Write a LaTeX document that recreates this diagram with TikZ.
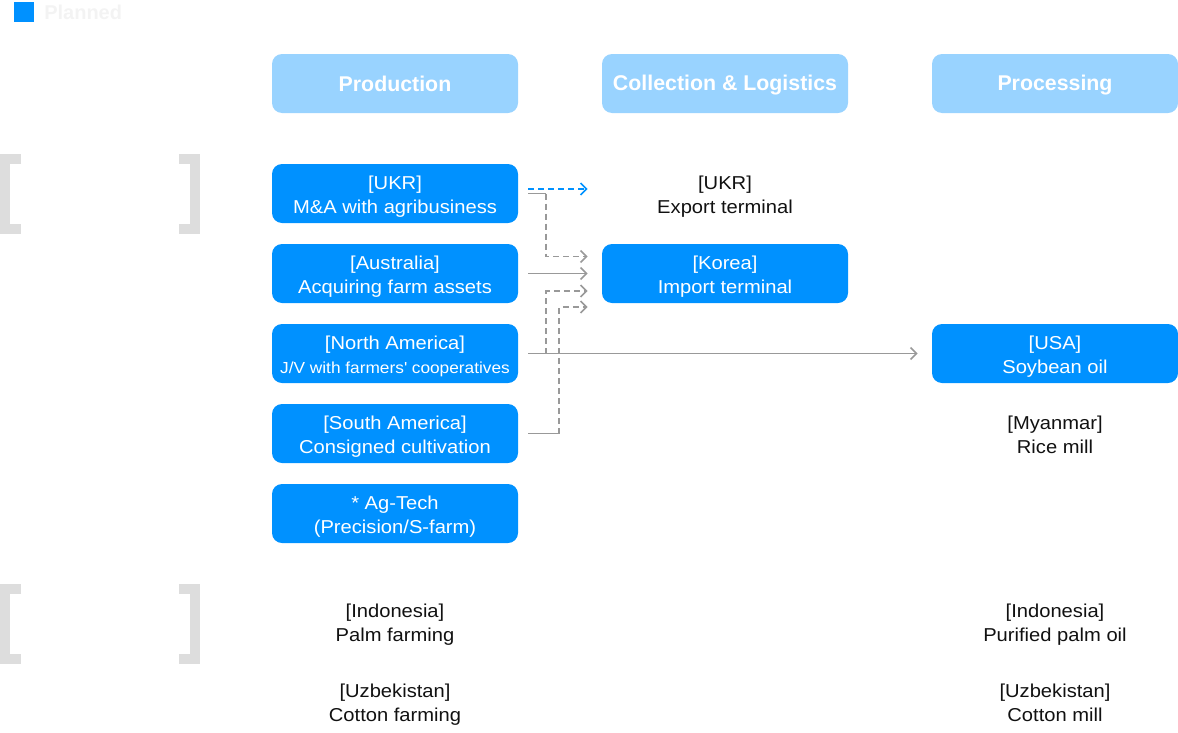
\documentclass[tikz,border=0pt]{standalone}
\usepackage{fontspec}
\setmainfont{Liberation Sans}[FakeStretch=1.08]
\newfontfamily\hdfont{Liberation Sans}
\usetikzlibrary{arrows.meta,calc}
\definecolor{bblue}{HTML}{0091FF}
\definecolor{hblue}{HTML}{99D3FF}
\definecolor{cgray}{HTML}{999999}
\definecolor{brk}{HTML}{DDDDDD}
\definecolor{ptext}{HTML}{F3F3F3}
\definecolor{tblack}{HTML}{111111}
\newcommand\topst{\rule{0pt}{15.7pt}}
\newcommand\botst{\rule[-4pt]{0pt}{4pt}}
\newcommand\hdst{\rule[-2pt]{0pt}{15.8pt}}
\begin{document}
\begin{tikzpicture}[x=0.75pt,y=-0.75pt,
  box/.style={fill=bblue, rounded corners=7.5pt, minimum width=184.5pt, minimum height=44.25pt,
    text=white, align=center, font=\fontsize{14}{18}\selectfont, inner sep=0pt},
  hbox/.style={box, fill=hblue, font=\hdfont\fontsize{16}{18}\selectfont\bfseries},
  plain/.style={align=center, text=tblack, font=\fontsize{14}{18}\selectfont, inner sep=0pt},
  conn/.style={draw=cgray, line width=1.4pt},
  dconn/.style={conn, dash pattern=on 4.5pt off 3pt},
  tipc/.style={-{Straight Barb[length=4.5pt,width=9pt,line width=1.3pt]}},
  brack/.style={draw=brk, line width=7.5pt, line join=miter, line cap=butt}
]
\useasboundingbox (0,0) rectangle (1178,732);

% legend
\node[fill=bblue, minimum size=15pt, inner sep=0pt] (legsq) at (24,12) {};
\node[anchor=west, text=ptext, font=\hdfont\fontsize{15}{18}\selectfont\bfseries, inner sep=0pt] (legtxt) at (44,12) {Planned};

% brackets
\draw[brack] (21,159) -- (5,159) -- (5,229) -- (21,229);
\draw[brack] (179,159) -- (195,159) -- (195,229) -- (179,229);
\draw[brack] (21,589) -- (5,589) -- (5,659) -- (21,659);
\draw[brack] (179,589) -- (195,589) -- (195,659) -- (179,659);

% headers
\node[hbox] (h1) at (395,83.5) {\hdst Production};
\node[hbox] (h2) at (725,83.5) {\hdst Collection \& Logistics};
\node[hbox] (h3) at (1055,83.5) {\hdst Processing};

% production boxes
\node[box] (u1) at (395,193.5) {\topst[UKR]\\M\&A with agribusiness\botst};
\node[box] (a1) at (395,273.5) {\topst[Australia]\\Acquiring farm assets\botst};
\node[box] (n1) at (395,353.5) {\topst[North America]\\{\fontsize{12}{18}\selectfont J/V with farmers\textquotesingle{} cooperatives}\botst};
\node[box] (s1) at (395,433.5) {\topst[South America]\\Consigned cultivation\botst};
\node[box] (g1) at (395,513.5) {\topst* Ag-Tech\\(Precision/S-farm)\botst};

% collection
\node[plain] (t1) at (725,193.5) {\topst[UKR]\\Export terminal\botst};
\node[box] (k1) at (725,273.5) {\topst[Korea]\\Import terminal\botst};

% processing
\node[box] (us) at (1055,353.5) {\topst[USA]\\Soybean oil\botst};
\node[plain] (my) at (1055,433.5) {\topst[Myanmar]\\Rice mill\botst};

% bottom rows
\node[plain] (ip) at (395,621.5) {\topst[Indonesia]\\Palm farming\botst};
\node[plain] (io) at (1055,621.5) {\topst[Indonesia]\\Purified palm oil\botst};
\node[plain] (zc) at (395,701.5) {\topst[Uzbekistan]\\Cotton farming\botst};
\node[plain] (zm) at (1055,701.5) {\topst[Uzbekistan]\\Cotton mill\botst};

% connectors
\draw[conn, draw=bblue, dash pattern=on 4.5pt off 3pt, tipc] ($(u1.east)+(10,-4.5)$) -- ($(k1.west)+(-14,-84.5)$);
\draw[conn] ($(u1.east)+(10,0)$) -- ($(u1.east)+(28,0)$);
\draw[dconn, tipc] ($(u1.east)+(28,0)$) |- ($(k1.west)+(-14,-17)$);
\draw[conn, tipc] ($(a1.east)+(10,0)$) -- ($(k1.west)+(-14,0)$);
\draw[dconn, tipc] ($(n1.east)+(28,0)$) |- ($(k1.west)+(-14,17.5)$);
\draw[conn] ($(s1.east)+(10,0)$) -- ($(s1.east)+(41,0)$);
\draw[dconn, tipc] ($(s1.east)+(41,0)$) |- ($(k1.west)+(-14,33.5)$);
\draw[conn, tipc] ($(n1.east)+(10,0)$) -- ($(us.west)+(-14,0)$);
\end{tikzpicture}
\end{document}
